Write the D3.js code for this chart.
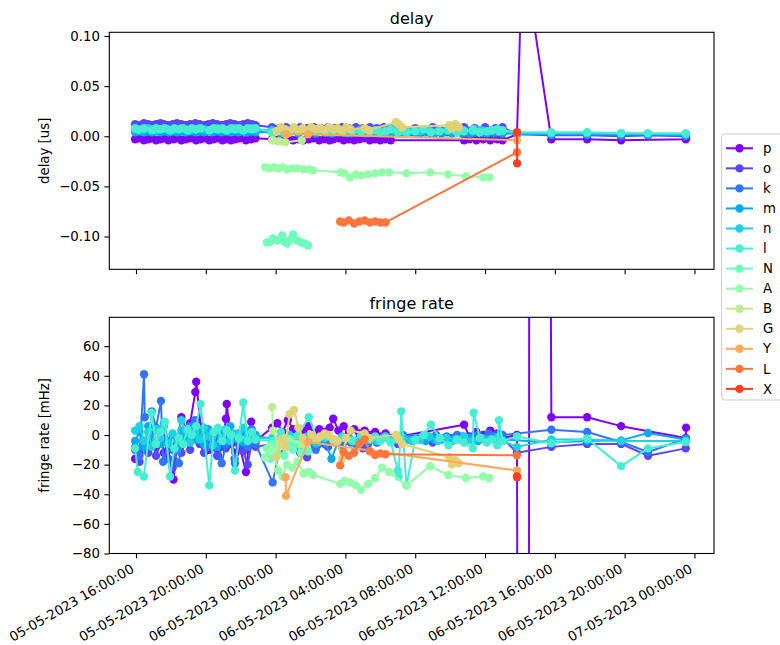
<!DOCTYPE html>
<html><head><meta charset="utf-8">
<script src="https://cdn.jsdelivr.net/npm/d3@7"></script>
<style>body{margin:0;background:#fff} svg{font-family:"DejaVu Sans",sans-serif}</style>
</head><body><svg id="c" width="780" height="645"></svg>
<script>
// ---------- data ----------
const stations = ["p","o","k","m","n","l","N","A","B","G","Y","L","X"];
const colors = ["#8000ff","#5847fd","#3176f8","#0aa9ee","#1dd2e2","#45eed2","#6cfdbf","#93fda9","#baee91","#e2d277","#ffa95a","#ff763d","#ff3d1f"];
const xTickLabels = ["05-05-2023 16:00:00","05-05-2023 20:00:00","06-05-2023 00:00:00","06-05-2023 04:00:00","06-05-2023 08:00:00","06-05-2023 12:00:00","06-05-2023 16:00:00","06-05-2023 20:00:00","07-05-2023 00:00:00"];
const delayTicks = [-0.10,-0.05,0.00,0.05,0.10];
const rateTicks = [-80,-60,-40,-20,0,20,40,60];
// rows: [hours since 05-05-2023 16:00, delay (us), fringe rate (mHz)]
const dataP = [[-0.05,-0.003,-16],[0.2,-0.002,-12],[0.45,-0.004,-6],[0.7,-0.003,-10],[0.9,-0.002,-3],[1.15,-0.004,-8],[1.4,-0.003,2],[1.6,-0.002,-12],[1.85,-0.004,-10],[2.15,-0.003,-30],[2.35,-0.002,-6],[2.6,-0.004,12],[2.85,-0.003,4],[3.1,-0.002,8],[3.4,-0.003,29],[3.45,-0.004,36],[3.7,-0.003,6],[3.95,-0.002,-4],[4.2,-0.004,-10],[4.45,-0.003,-2],[4.7,-0.002,-14],[4.95,-0.004,-8],[5.15,-0.003,11],[5.2,-0.002,21],[5.45,-0.004,-6],[5.7,-0.003,-12],[5.95,-0.002,-8],[6.3,-0.004,-25],[6.6,-0.003,9],[6.85,-0.002,-4],
 [7.8,-0.003,5],[8.1,-0.004,8],[8.4,-0.003,2],[8.7,-0.002,10],[9.0,-0.004,4],[9.3,-0.003,-2],[9.6,-0.004,3],[9.9,-0.003,6],[10.2,-0.002,1],[10.5,-0.004,4],[10.8,-0.003,2],[11.1,-0.004,5],[11.3,-0.003,11],[11.6,-0.002,3],[11.9,-0.004,6],[12.2,-0.003,2],[12.5,-0.004,4],[12.8,-0.003,1],[13.1,-0.002,3],[13.4,-0.004,0],[13.7,-0.003,2],[14.0,-0.004,-1],[14.3,-0.003,1],[14.6,-0.004,-2],[18.8,-0.004,7],[19.1,-0.003,-1],[19.5,-0.004,2],[19.9,-0.003,0],[20.3,-0.004,3],[20.7,-0.003,1],[21.0,-0.004,-2],
 [21.83,0.002,0],[22.4,0.337,-3000],[22.65,0.13,3000],[23.8,-0.003,12],[25.85,-0.003,12],[27.8,-0.004,6],[31.5,-0.003,-2],[31.52,-0.002,5]];
const dataO = [[-0.05,0.012,-10],[0.2,0.011,-18],[0.45,0.013,-4],[0.7,0.012,-12],[0.9,0.011,0],[1.15,0.012,-14],[1.4,0.013,-6],[1.6,0.012,-2],[1.85,0.011,-16],[2.1,0.012,-22],[2.35,0.013,-8],[2.6,0.012,-12],[2.85,0.011,-4],[3.1,0.012,-10],[3.4,0.013,2],[3.65,0.012,-6],[3.9,0.011,-12],[4.15,0.012,-3],[4.4,0.013,-8],[4.65,0.012,-14],[4.9,0.011,-2],[5.15,0.012,-9],[5.4,0.013,-5],[5.65,0.012,-16],[5.9,0.011,-6],[6.15,0.012,-11],[6.4,0.013,-20],[6.65,0.012,-4],[6.85,0.011,-8],
 [7.8,0.009,-6],[8.2,0.008,-10],[8.6,0.009,-4],[9.0,0.008,-8],[9.4,0.009,-12],[9.8,0.008,-15],[10.2,0.009,-6],[10.6,0.008,-3],[11.0,0.009,-8],[11.4,0.008,-4],[11.8,0.009,-7],[12.2,0.008,-2],[12.6,0.009,-6],[13.0,0.008,-9],[13.4,0.009,-3],[13.8,0.008,-5],[14.2,0.009,-1],[14.6,0.008,-4],[15.0,0.009,-6],[16.0,0.008,-3],[17.0,0.009,-5],[18.0,0.008,-2],[18.8,0.009,-4],[19.4,0.008,-1],[20.0,0.009,-3],[20.6,0.008,0],[21.0,0.009,-2],
 [21.83,0.002,-12],[23.8,0.001,-8],[25.85,0.001,-6],[27.8,0.000,-6],[29.34,0.001,-14],[31.5,0.000,-9]];
const dataK = [[-0.05,0.006,-8],[0.2,0.005,-14],[0.46,0.006,41],[0.5,0.005,12],[0.9,0.006,16],[1.15,0.005,5],[1.43,0.006,23],[1.55,0.005,-18],[1.85,0.006,-6],[2.1,0.005,-10],[2.46,0.006,-19],[2.6,0.005,-4],[2.85,0.006,2],[3.1,0.005,6],[3.38,0.006,10],[3.65,0.005,-2],[3.9,0.006,4],[4.15,0.005,-8],[4.4,0.006,-4],[4.65,0.005,3],[4.91,0.006,-19],[5.15,0.005,-6],[5.4,0.006,0],[5.67,0.005,-19],[5.9,0.006,-3],[6.15,0.005,2],[6.4,0.006,-8],[6.63,0.005,4],[6.85,0.006,-6],
 [7.83,0.004,-32],[8.3,0.003,-6],[8.8,0.004,-2],[9.3,0.003,-8],[9.8,0.004,-4],[10.3,0.003,-10],[10.8,0.004,-6],[11.3,0.003,-3],[11.8,0.004,-8],[12.3,0.003,-5],[12.8,0.004,-2],[13.3,0.003,-6],[13.8,0.004,-4],[14.3,0.003,-1],[14.8,0.004,-3],[15.3,0.003,0],[15.8,0.004,-2],[16.3,0.003,-3],[16.6,0.004,-1],[16.9,0.003,-2],[17.2,0.004,0],[17.5,0.003,-3],[17.8,0.004,-1],[18.1,0.003,-2],[18.4,0.004,0],[18.7,0.003,-1],[19.0,0.004,-3],[19.3,0.003,-1],[19.6,0.004,0],[19.9,0.003,-2],[20.2,0.004,1],[20.5,0.003,-1],[20.8,0.004,-2],[21.0,0.003,0],
 [23.8,0.002,3.6],[25.85,0.002,2],[27.8,0.001,-4.7],[29.34,0.001,-11.5],[31.5,0.001,-2.5]];
const dataM = [[-0.05,0.004,-4],[0.2,0.005,2],[0.45,0.004,-8],[0.7,0.005,6],[0.9,0.004,-2],[1.15,0.005,4],[1.4,0.004,-6],[1.6,0.005,8],[1.85,0.004,-4],[2.1,0.005,0],[2.35,0.004,-10],[2.6,0.005,3],[2.85,0.004,-2],[3.1,0.005,5],[3.4,0.004,-3],[3.65,0.005,2],[3.9,0.004,-6],[4.15,0.005,4],[4.4,0.004,-1],[4.65,0.005,-8],[4.9,0.004,3],[5.15,0.005,-4],[5.4,0.004,6],[5.65,0.005,-2],[5.9,0.004,1],[6.15,0.005,-5],[6.4,0.004,2],[6.65,0.005,-3],[6.85,0.004,0],
 [7.8,0.004,-3],[8.3,0.003,-5],[8.8,0.004,-1],[9.3,0.003,-4],[9.8,0.004,-2],[10.3,0.003,-6],[10.8,0.004,-3],[11.2,0.003,-16],[11.6,0.004,-4],[12.1,0.003,-2],[12.6,0.004,-5],[13.1,0.003,-1],[13.6,0.004,-3],[14.1,0.003,-2],[14.6,0.004,-4],[15.1,0.003,-1],[15.6,0.004,-3],[16.1,0.003,-2],[16.6,0.004,-4],[17.1,0.003,-3],[17.6,0.004,-2],[18.1,0.003,-4],[18.6,0.004,-3],[19.1,0.003,-2],[19.6,0.004,-4],[20.1,0.003,-3],[20.6,0.004,-2],[21.0,0.003,-3],
 [23.8,0.002,-5],[25.85,0.002,-4],[27.8,0.002,-3.6],[29.34,0.002,1.4],[31.5,0.001,-3]];
const dataN2 = [[-0.05,0.007,3],[0.2,0.006,6],[0.45,0.007,-4],[0.7,0.008,2],[0.9,0.007,-8],[1.15,0.006,4],[1.4,0.007,-2],[1.6,0.008,6],[1.85,0.007,-6],[2.1,0.006,1],[2.35,0.007,-4],[2.6,0.008,10],[2.85,0.007,3],[3.1,0.006,-5],[3.4,0.007,2],[3.65,0.008,-3],[3.9,0.007,5],[4.15,0.006,-1],[4.4,0.007,-7],[4.65,0.008,3],[4.9,0.007,-2],[5.15,0.006,4],[5.4,0.007,-4],[5.65,0.008,1],[5.9,0.007,-3],[6.15,0.006,5],[6.4,0.007,-1],[6.63,0.008,1],[6.85,0.007,-2],
 [7.8,0.006,-2],[8.3,0.005,-4],[8.8,0.006,0],[9.3,0.005,-3],[9.8,0.006,-1],[10.3,0.005,-5],[10.8,0.006,-2],[11.3,0.005,-4],[11.8,0.006,-1],[12.3,0.005,-3],[12.8,0.006,-5],[13.3,0.005,-2],[13.8,0.006,-4],[14.3,0.005,-1],[14.8,0.006,-3],[15.3,0.005,-2],[15.8,0.006,-4],[16.3,0.005,-3],[16.8,0.006,-1],[17.3,0.005,-4],[17.8,0.006,-2],[18.3,0.005,-3],[18.8,0.006,-1],[19.3,0.005,-4],[19.8,0.006,-2],[20.3,0.005,-3],[20.8,0.006,-1],[21.0,0.005,-4],
 [21.83,0.003,-8],[23.8,0.003,-3],[25.85,0.003,-3],[27.8,0.003,-4],[31.5,0.002,-4]];
const dataL2 = [[-0.05,0.008,-9],[0.1,0.007,-25],[0.45,0.008,-28],[0.9,0.006,15],[1.15,0.008,-6],[1.4,0.007,2],[1.65,0.008,9],[1.95,0.006,-28],[2.2,0.008,-9],[2.45,0.007,-2],[2.7,0.008,-6],[2.95,0.006,4],[3.2,0.008,0],[3.45,0.007,6],[3.7,0.008,21],[4.2,0.006,-34],[4.45,0.008,2],[4.7,0.007,5],[4.95,0.008,-4],[5.2,0.006,3],[5.45,0.008,0],[5.67,0.007,-24],[5.9,0.008,-2],[6.15,0.006,22],[6.4,0.008,-4],[6.65,0.007,2],[6.85,0.008,-3],
 [7.8,0.004,-4],[8.3,0.005,2],[8.8,0.004,-6],[9.3,0.005,0],[9.9,0.004,12],[10.4,0.005,-3],[10.9,0.004,-1],[11.4,0.005,-5],[11.9,0.004,-2],[12.4,0.005,-4],[12.9,0.004,0],[13.4,0.005,-3],[13.7,0.006,-1],[14.0,0.004,-4],[14.3,0.005,-2],[14.6,0.007,-5],[15.0,0.004,-24],[15.05,0.005,-28],[15.2,0.006,16],[15.5,0.004,-34],[16.0,0.005,-3],[16.5,0.007,0],[16.9,0.004,7],[17.4,0.005,-2],[17.9,0.006,-7],[18.4,0.004,-3],[18.8,0.005,-5],[19.3,0.006,-9],[19.35,0.007,15],[19.7,0.004,-2],[20.1,0.005,-5],[20.4,0.006,-3],[20.7,0.007,-7],[20.8,0.005,10],[21.0,0.006,-4],
 [21.83,0.004,-1],[23.8,0.004,-5.6],[25.85,0.004,-2.3],[27.8,0.003,-21],[29.34,0.003,-9],[31.5,0.003,-4.7]];
const dataNN = [[7.5,-0.106,-9],[7.7,-0.105,-16],[7.85,-0.102,-6],[8.1,-0.104,-12],[8.37,-0.099,-4],[8.5,-0.105,-14],[8.65,-0.107,-8],[8.85,-0.103,-3],[9.0,-0.098,-10],[9.23,-0.104,-6],[9.45,-0.106,-12],[9.65,-0.107,-7],[9.86,-0.109,-11]];
const dataA = [[7.4,-0.031,-15],[7.65,-0.032,-8],[7.9,-0.031,-12],[8.15,-0.032,-24],[8.4,-0.031,-28],[8.65,-0.033,-20],[8.95,-0.032,-22],[9.25,-0.032,-18],[9.6,-0.033,-26],[9.9,-0.033,-25],[10.14,-0.034,-27],[11.7,-0.036,-33],[11.95,-0.037,-31],[12.26,-0.041,-32],[12.6,-0.038,-34],[12.9,-0.039,-37],[13.3,-0.038,-33],[13.7,-0.037,-29],[14.1,-0.036,-22],[14.5,-0.036,-25],[15.5,-0.037,-34],[16.85,-0.036,-21],[17.9,-0.038,-27],[18.9,-0.040,-29],[19.9,-0.041,-28],[20.25,-0.041,-29]];
const dataB = [[7.8,-0.004,19],[7.85,-0.004,3],[8.2,-0.005,-8],[8.55,-0.006,-2],[9.5,-0.004,-6]];
const dataG = [[8.05,0.005,-15],[8.3,0.009,-3],[8.55,0.007,-8],[8.8,0.004,14],[9.05,0.009,17],[9.3,0.006,5],[9.55,0.008,-2],[9.8,0.005,-5],[10.05,0.009,0],[10.3,0.007,-3],[10.55,0.008,-1],[10.8,0.006,1],[11.05,0.009,0],[11.3,0.007,-3],[11.55,0.008,-4],[11.8,0.005,-16],[12.05,0.009,-2],[12.3,0.007,3],[13.1,0.008,1],[13.35,0.006,-2],[14.9,0.014,0],[15.05,0.012,-3],[15.25,0.009,-6],[17.95,0.011,-15],[18.1,0.008,-20],[18.3,0.012,-17],[18.5,0.009,-19]];
const dataY = [[8.57,0.002,-28.5],[8.6,0.002,-41],[9.86,0.002,-4.7],[21.83,-0.004,-24]];
const dataL = [[11.7,-0.085,-20.5],[11.9,-0.086,-11.5],[12.2,-0.084,-14],[12.5,-0.087,-12],[12.8,-0.085,-6],[13.1,-0.084,-3],[13.4,-0.086,-11],[13.7,-0.085,-13.5],[14.0,-0.086,-12.5],[14.3,-0.086,-13],[21.83,-0.016,-13.7]];
const dataX = [[21.83,0.004,-28],[21.84,-0.027,-28.5]];
const seriesData = [dataP,dataO,dataK,dataM,dataN2,dataL2,dataNN,dataA,dataB,dataG,dataY,dataL,dataX];

// ---------- drawing ----------
const svg = d3.select("#c");
const base = Date.UTC(2023,4,5,16);
const toDate = h => new Date(base + h*3600e3);
const parseT = d3.utcParse("%d-%m-%Y %H:%M:%S");
const fmtT = d3.utcFormat("%d-%m-%Y %H:%M:%S");
const tickDates = xTickLabels.map(parseT);
const x = d3.scaleUtc().domain([toDate(-1.53), toDate(33.12)]).range([109.3, 714]);
const yD = d3.scaleLinear().domain([-0.1327, 0.1037]).range([269.3, 32.3]);
const yR = d3.scaleLinear().domain([-80, 79.5]).range([553.5, 317.3]);

function panel(y, col, title, ylabel, ticks, fmt, showX, id){
  const [b, t] = y.range();
  const defs = svg.append("defs");
  defs.append("clipPath").attr("id", id).append("rect")
    .attr("x", 109.3).attr("y", t).attr("width", 714-109.3).attr("height", b-t);
  const g = svg.append("g").attr("clip-path", `url(#${id})`);
  seriesData.forEach((rows, i) => {
    const line = d3.line().x(r => x(toDate(r[0]))).y(r => y(r[col]));
    g.append("path").attr("d", line(rows)).attr("fill","none")
      .attr("stroke", colors[i]).attr("stroke-width", 2).attr("stroke-linejoin","round");
    g.selectAll(null).data(rows).enter().append("circle")
      .attr("cx", r => x(toDate(r[0]))).attr("cy", r => y(r[col]))
      .attr("r", 4.2).attr("fill", colors[i]);
  });
  svg.append("rect").attr("x",109.3).attr("y",t).attr("width",714-109.3).attr("height",b-t)
    .attr("fill","none").attr("stroke","#000").attr("stroke-width",1.1);
  const ya = svg.append("g").attr("transform","translate(109.3,0)")
    .call(d3.axisLeft(y).tickValues(ticks).tickFormat(fmt).tickSize(4.9).tickPadding(4.5).tickSizeOuter(0));
  ya.select(".domain").remove();
  ya.selectAll("text").attr("font-size","13.3px").attr("font-family","DejaVu Sans").attr("fill","#000");
  ya.selectAll("line").attr("stroke","#000").attr("stroke-width",1.1);
  const xa = svg.append("g").attr("transform",`translate(0,${b})`)
    .call(d3.axisBottom(x).tickValues(tickDates).tickFormat(showX ? fmtT : "").tickSize(4.9).tickSizeOuter(0));
  xa.select(".domain").remove();
  xa.selectAll("line").attr("stroke","#000").attr("stroke-width",1.1);
  xa.selectAll("text").attr("font-size","13.3px").attr("font-family","DejaVu Sans").attr("fill","#000")
    .attr("text-anchor","end").attr("x",0).attr("y",0).attr("dy",null)
    .attr("transform","translate(-1.5,18) rotate(-30)");
  svg.append("text").attr("x",(109.3+714)/2).attr("y",t-8.3).attr("text-anchor","middle")
    .attr("font-size","16px").text(title);
  svg.append("text").attr("transform",`translate(49,${(t+b)/2}) rotate(-90)`)
    .attr("text-anchor","middle").attr("font-size","13.3px").text(ylabel);
}
panel(yD, 1, "delay", "delay [us]", delayTicks, d3.format(".2f"), false, "clipD");
panel(yR, 2, "fringe rate", "fringe rate [mHz]", rateTicks, d3.format("d"), true, "clipR");

const lg = svg.append("g");
lg.append("rect").attr("x",721.7).attr("y",134).attr("width",80).attr("height",266).attr("rx",3)
  .attr("fill","#fff").attr("fill-opacity",0.8).attr("stroke","#cccccc").attr("stroke-width",1);
stations.forEach((s,i) => {
  const yy = 148.3 + i*20.05;
  lg.append("line").attr("x1",726).attr("x2",753).attr("y1",yy).attr("y2",yy)
    .attr("stroke",colors[i]).attr("stroke-width",2);
  lg.append("circle").attr("cx",739.5).attr("cy",yy).attr("r",4.2).attr("fill",colors[i]);
  lg.append("text").attr("x",763).attr("y",yy).attr("dy","0.35em").attr("font-size","13.3px").text(s);
});
</script></body></html>
